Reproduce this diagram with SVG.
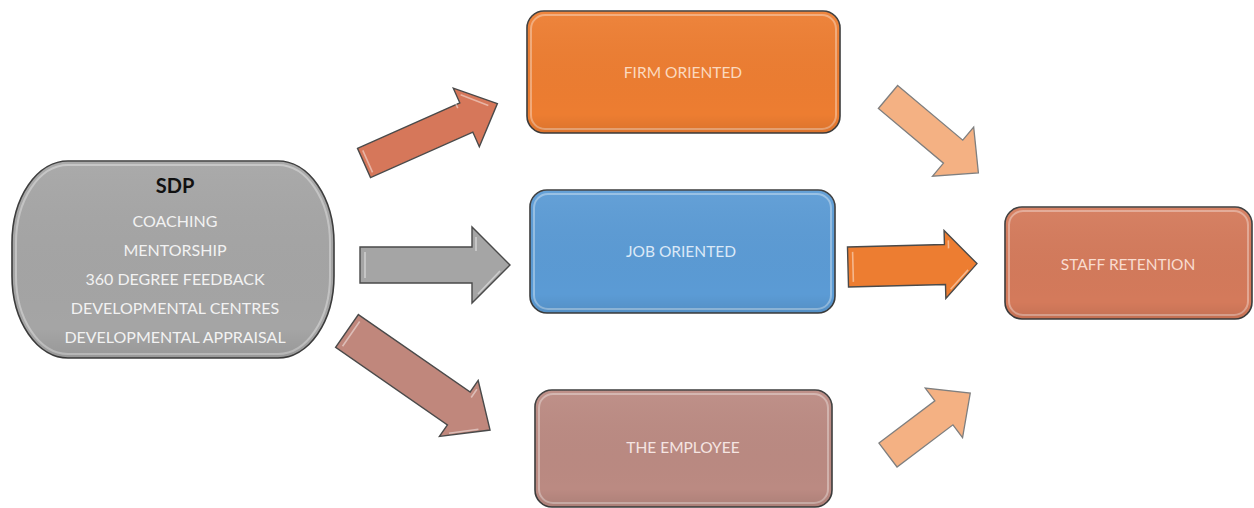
<svg xmlns="http://www.w3.org/2000/svg" width="1254" height="508" viewBox="0 0 1254 508">
  <defs>
    <style>
      .box { stroke: #3c3c3c; stroke-width: 1.6; }
      .rim { fill: none; stroke: #ffffff; stroke-opacity: 0.35; stroke-width: 2; }
      .lbl { font-family: Lato, "Open Sans", "Liberation Sans", sans-serif; font-size: 15.5px; text-anchor: middle; }
      .sdp { font-family: Lato, "Open Sans", "Liberation Sans", sans-serif; font-size: 16px; text-anchor: middle; fill: #f2f2f2; }
      .arr { stroke: #4a4a4a; stroke-width: 1.4; stroke-linejoin: miter; }
      .arr-hl { fill: none; stroke: #ffffff; stroke-opacity: 0.45; stroke-width: 1.6; }
      .flat { stroke: #7f7f7f; stroke-width: 1.3; fill: #f4b183; }
    </style>
    <linearGradient id="shade" x1="0" y1="0" x2="0" y2="1">
      <stop offset="0" stop-color="#ffffff" stop-opacity="0.06"/>
      <stop offset="0.85" stop-color="#000000" stop-opacity="0"/>
      <stop offset="1" stop-color="#000000" stop-opacity="0.08"/>
    </linearGradient>
  </defs>

  <rect width="1254" height="508" fill="#ffffff"/>

  <!-- connectors: block arrows -->
  <g id="connectors">
    <!-- SDP -> FIRM ORIENTED -->
    <g transform="translate(364,163) rotate(-24)">
      <path class="arr" fill="#d6775a" d="M0,-16 L112,-16 L112,-32 L146,0 L112,32 L112,16 L0,16 Z"/>
      <path class="arr-hl" d="M4,-12 L4,12 M108,-25 L108,-12 M116,-23 L137,-2"/>
    </g>
    <!-- SDP -> JOB ORIENTED -->
    <g transform="translate(360,265)">
      <path class="arr" fill="#a5a5a5" d="M0,-18 L112,-18 L112,-38 L150,0 L112,38 L112,18 L0,18 Z"/>
      <path class="arr-hl" d="M5,-13 L5,13 M116,-28 L116,-14 M118,29 L140,6"/>
    </g>
    <!-- SDP -> THE EMPLOYEE -->
    <g transform="translate(347,331) rotate(34.7)">
      <path class="arr" fill="#c0877c" d="M0,-20 L136,-20 L136,-34 L174,0 L136,34 L136,20 L0,20 Z"/>
      <path class="arr-hl" d="M5,-15 L5,15 M140,-26 L140,-16 M142,26 L164,6"/>
    </g>
    <!-- JOB ORIENTED -> STAFF RETENTION -->
    <g transform="translate(848,267) rotate(-1.5)">
      <path class="arr" fill="#ed7d31" d="M0,-20 L97,-20 L97,-34 L129,0 L97,34 L97,20 L0,20 Z"/>
      <path class="arr-hl" d="M5,-15 L5,15 M101,-24 L101,-16 M102,25 L120,6"/>
    </g>
    <!-- FIRM ORIENTED -> STAFF RETENTION -->
    <g transform="translate(888,97) rotate(40)">
      <path class="flat" d="M0,-15 L85,-15 L85,-32 L118,0 L85,32 L85,15 L0,15 Z"/>
    </g>
    <!-- THE EMPLOYEE -> STAFF RETENTION -->
    <g transform="translate(888,455) rotate(-37)">
      <path class="flat" d="M0,-15 L70,-15 L70,-31 L103,0 L70,31 L70,15 L0,15 Z"/>
    </g>
  </g>

  <!-- SDP -->
  <g id="sdp">
    <rect class="box" x="12" y="161" width="322" height="197" rx="56" ry="82" fill="#a5a5a5"/>
    <rect class="rim" x="16" y="165" width="314" height="189" rx="52" ry="78"/>
    <rect x="12" y="161" width="322" height="197" rx="56" ry="82" fill="url(#shade)"/>
    <text x="175" y="193" font-family="Lato, 'Open Sans', 'Liberation Sans', sans-serif" font-size="20" font-weight="bold" text-anchor="middle" fill="#111111">SDP</text>
    <text class="sdp" x="175" y="227">COACHING</text>
    <text class="sdp" x="175" y="256">MENTORSHIP</text>
    <text class="sdp" x="175" y="285">360 DEGREE FEEDBACK</text>
    <text class="sdp" x="175" y="314">DEVELOPMENTAL CENTRES</text>
    <text class="sdp" x="175" y="343">DEVELOPMENTAL APPRAISAL</text>
  </g>

  <!-- FIRM ORIENTED -->
  <g id="firm-oriented">
    <rect class="box" x="527" y="11" width="313" height="122" rx="17" fill="#ed7d31"/>
    <rect class="rim" x="531" y="15" width="305" height="114" rx="14"/>
    <rect x="527" y="11" width="313" height="122" rx="17" fill="url(#shade)"/>
    <text class="lbl" x="683" y="78" fill="#fbd9bf">FIRM ORIENTED</text>
  </g>

  <!-- JOB ORIENTED -->
  <g id="job-oriented">
    <rect class="box" x="530" y="190" width="305" height="123" rx="17" fill="#5b9bd5"/>
    <rect class="rim" x="534" y="194" width="297" height="115" rx="14"/>
    <rect x="530" y="190" width="305" height="123" rx="17" fill="url(#shade)"/>
    <text class="lbl" x="681" y="257" fill="#dbe9f7">JOB ORIENTED</text>
  </g>

  <!-- THE EMPLOYEE -->
  <g id="the-employee">
    <rect class="box" x="535" y="390" width="297" height="117" rx="17" fill="#bb8a82"/>
    <rect class="rim" x="539" y="394" width="289" height="109" rx="14"/>
    <rect x="535" y="390" width="297" height="117" rx="17" fill="url(#shade)"/>
    <text class="lbl" x="683" y="453" fill="#f5e5e2">THE EMPLOYEE</text>
  </g>

  <!-- STAFF RETENTION -->
  <g id="staff-retention">
    <rect class="box" x="1005" y="207" width="247" height="112" rx="17" fill="#d47a5b"/>
    <rect class="rim" x="1009" y="211" width="239" height="104" rx="14"/>
    <rect x="1005" y="207" width="247" height="112" rx="17" fill="url(#shade)"/>
    <text class="lbl" x="1128" y="270" fill="#f9dccf">STAFF RETENTION</text>
  </g>
</svg>
